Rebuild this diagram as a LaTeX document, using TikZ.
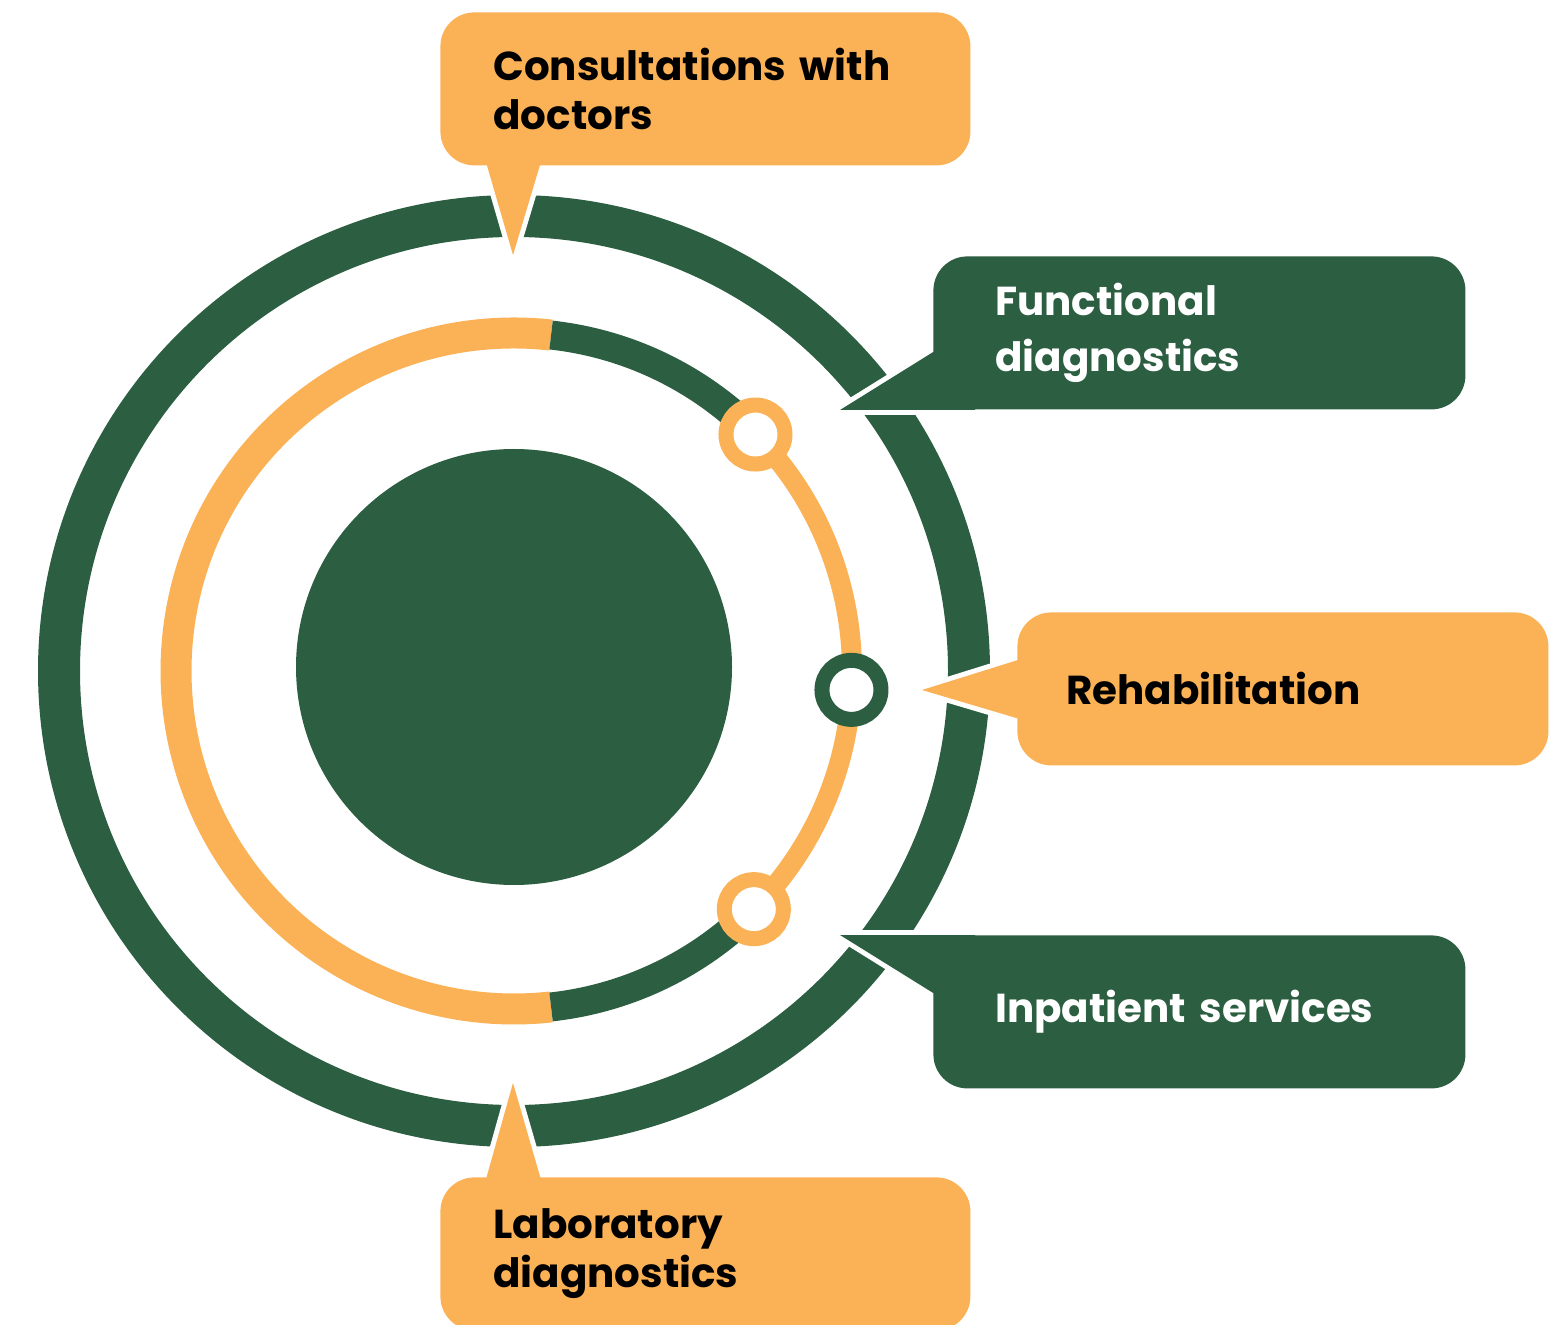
\documentclass[tikz,border=0pt]{standalone}
\usepackage{fontspec}
\setmainfont{Poppins}[WordSpace=0.55]
\usetikzlibrary{calc}
\definecolor{dgreen}{HTML}{2C5E41}
\definecolor{sorange}{HTML}{FBB155}
\pgfdeclarelayer{rings}
\pgfdeclarelayer{tips}
\pgfsetlayers{rings,tips,main}
\tikzset{
  callbox/.style={rounded corners=17pt, minimum height=76.5pt, anchor=north west,
    align=left, inner ysep=0pt, font=\bfseries\fontsize{20.2}{24.5}\selectfont},
  orbox/.style={callbox, fill=sorange, text=black},
  grbox/.style={callbox, fill=dgreen, text=white},
  pointer/.style={fill=#1, preaction={draw=white, line width=5pt}},
  dot/.style={circle, draw=#1, fill=white, line width=7.5pt, inner sep=0pt, minimum size=29.5pt},
}
\begin{document}
\begin{tikzpicture}[x=0.5pt,y=-0.5pt]
  \useasboundingbox (0,0) rectangle (1557,1325);
  \coordinate (c) at (514,671);

  % Anillos
  \begin{pgfonlayer}{rings}
    \draw[dgreen, line width=21pt] (c) circle (455);
    \fill[dgreen] (514,667) circle (218);
    \draw[sorange, line width=15.5pt] ($(c)+(-83.7:338)$) arc[start angle=-83.7, end angle=-276.3, radius=338];
    \draw[dgreen, line width=14.5pt] ($(c)+(-83.7:338)$) arc[start angle=-83.7, end angle=-44.4, radius=338];
    \draw[dgreen, line width=14.5pt] ($(c)+(83.7:338)$) arc[start angle=83.7, end angle=44.8, radius=338];
    \draw[sorange, line width=10pt] ($(c)+(-44.4:338)$) arc[start angle=-44.4, end angle=44.8, radius=338];
    \node[dot=sorange] (dtop) at ($(c)+(-44.4:338)$) {};
    \node[dot=dgreen] (dmid) at ($(c)+(3.2:338)$) {};
    \node[dot=sorange] (dbot) at ($(c)+(44.8:338)$) {};
  \end{pgfonlayer}

  % Cajas
  \node[orbox, inner xsep=26.5pt, text width=212pt] (consult) at (440,12) {Consultations with\\doctors};
  \node[grbox, inner xsep=31pt, text width=204pt, font=\bfseries\fontsize{20.2}{28}\selectfont] (func) at (933,256) {Functional\\diagnostics};
  \node[orbox, inner xsep=24.5pt, text width=216.5pt] (rehab) at (1017,612) {Rehabilitation};
  \node[grbox, inner xsep=31pt, text width=204pt] (inpat) at (933,935) {Inpatient services};
  \node[orbox, inner xsep=26.5pt, text width=212pt] (lab) at (440,1177) {Laboratory\\diagnostics};

  % Flechas
  \coordinate (tconsult) at (513,255);
  \coordinate (tfunc) at (840,410);
  \coordinate (trehab) at (922,690);
  \coordinate (tinpat) at (840,935);
  \coordinate (tlab) at (513,1083);
  \begin{pgfonlayer}{tips}
    \fill[pointer=sorange] (tconsult) -- ($(tconsult)+(-32,-110)$) -- ($(tconsult)+(33,-110)$) -- cycle;
    \fill[pointer=dgreen] (tfunc) -- ($(tfunc)+(135,-84)$) -- ($(tfunc)+(135,0)$) -- cycle;
    \fill[pointer=sorange] (trehab) -- ($(trehab)+(128,-40)$) -- ($(trehab)+(128,38)$) -- cycle;
    \fill[pointer=dgreen] (tinpat) -- ($(tinpat)+(135,84)$) -- ($(tinpat)+(135,0)$) -- cycle;
    \fill[pointer=sorange] (tlab) -- ($(tlab)+(-32,114)$) -- ($(tlab)+(33,114)$) -- cycle;
  \end{pgfonlayer}
\end{tikzpicture}
\end{document}
